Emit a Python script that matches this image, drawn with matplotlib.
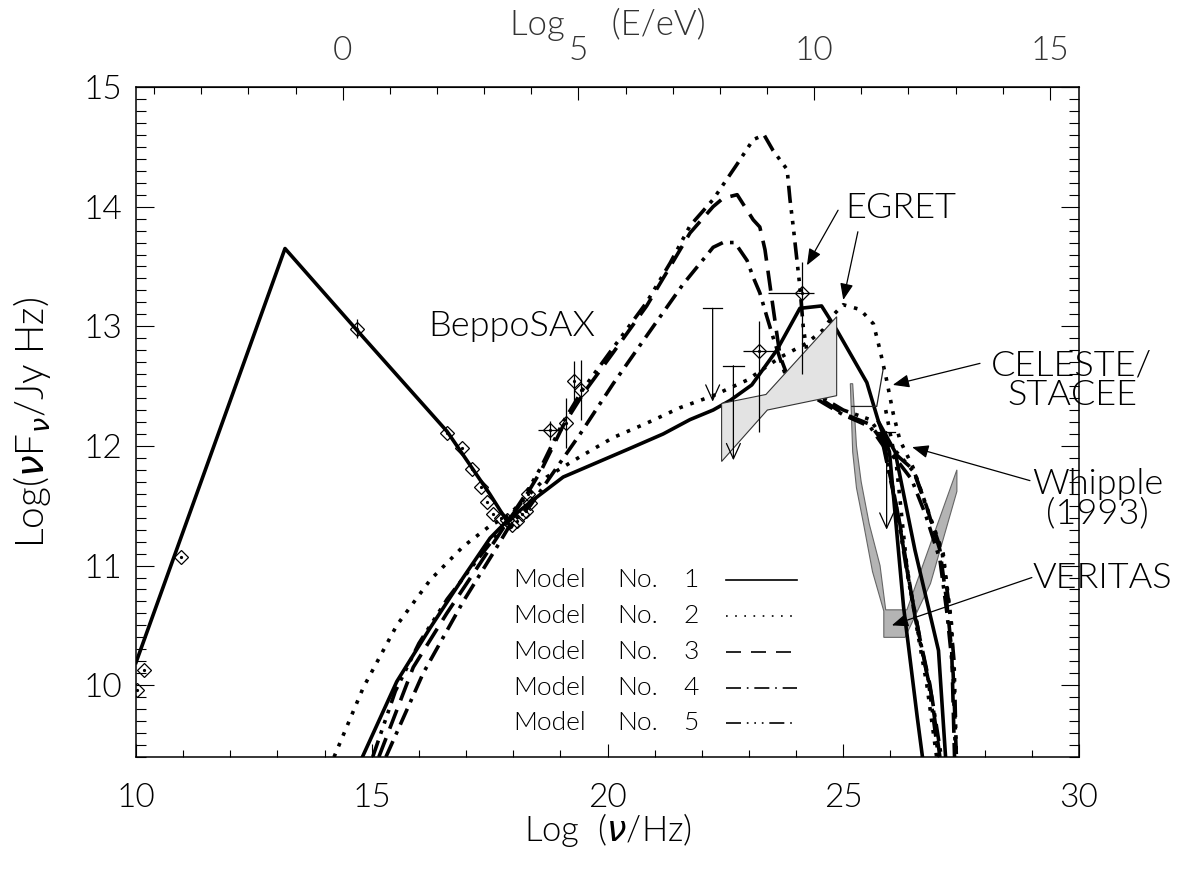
import matplotlib.pyplot as plt
from matplotlib.patches import Polygon
from matplotlib.ticker import MultipleLocator

plt.rcParams['font.family'] = ['Lato', 'DejaVu Sans']
plt.rcParams['font.weight'] = 300
plt.rcParams['axes.labelweight'] = 300
plt.rcParams['mathtext.fontset'] = 'dejavusans'

# ---- synchrotron part (model 1 only) ----
sync_x = [10.0, 13.16, 14.68, 16.6, 17.5, 17.95]
sync_y = [10.19, 13.65, 12.97, 12.12, 11.6, 11.32]

# ---- model curves (inverse Compton part) ----
m1_x = [14.79, 15.53, 16.24, 16.94, 17.51, 17.86, 18.36, 19.06, 19.77, 20.48, 21.18, 21.75,
        22.24, 22.6, 23.06, 23.59, 24.08, 24.54, 24.86, 25.5, 25.75, 25.98, 26.28, 26.36,
        26.57, 26.68]
m1_y = [9.39, 10.03, 10.48, 10.90, 11.23, 11.37, 11.53, 11.74, 11.86, 11.98, 12.10, 12.22,
        12.30, 12.38, 12.51, 12.80, 13.15, 13.17, 12.97, 12.53, 12.2, 11.95, 10.65, 10.40,
        9.73, 9.40]
m1b_x = [25.75, 26.1, 26.52, 27.02, 27.17]
m1b_y = [12.2, 11.95, 11.13, 10.29, 9.40]

m2_x = [14.2, 14.82, 15.53, 16.24, 16.94, 17.5, 17.9, 18.3, 18.71, 19.42, 20.12, 20.83,
        21.54, 22.24, 22.96, 23.66, 24.23, 24.57, 24.8, 25.0, 25.36, 25.64, 25.78, 25.92,
        26.06, 26.2, 26.48, 26.84, 27.12, 27.3, 27.38]
m2_y = [9.40, 9.98, 10.50, 10.88, 11.16, 11.33, 11.42, 11.58, 11.74, 11.91, 12.07, 12.19,
        12.32, 12.42, 12.55, 12.74, 12.86, 12.97, 13.10, 13.18, 13.14, 13.02, 12.80, 12.55,
        12.27, 12.05, 11.82, 11.41, 11.10, 10.50, 9.40]
m2b_x = [25.9, 26.13, 26.24, 26.35, 26.55, 26.77, 26.98]
m2b_y = [12.3, 11.83, 11.41, 10.99, 10.50, 10.01, 9.40]

m3_x = [15.15, 15.88, 16.59, 17.3, 17.9, 18.22, 18.6, 19.06, 19.49, 20.12, 20.83, 21.33,
        21.75, 22.24, 22.45, 22.75, 23.09, 23.23, 23.34, 23.45, 23.55, 23.66, 23.85, 24.2,
        24.57, 25.0, 25.57, 25.85, 26.2, 26.49, 26.77, 27.05, 27.19, 27.3, 27.36]
m3_y = [9.40, 10.15, 10.60, 11.02, 11.38, 11.55, 11.80, 12.17, 12.44, 12.78, 13.17, 13.50,
        13.78, 14.00, 14.07, 14.10, 13.89, 13.83, 13.64, 13.33, 13.05, 12.75, 12.55, 12.45,
        12.38, 12.27, 12.18, 12.03, 11.90, 11.80, 11.49, 11.13, 10.71, 10.29, 9.40]
m3b_x = [25.85, 26.15, 26.4, 26.62, 26.84, 27.05]
m3b_y = [12.03, 11.45, 10.85, 10.40, 10.00, 9.40]

m4_x = [15.3, 16.09, 16.94, 17.6, 17.95, 18.36, 19.42, 20.12, 20.83, 21.6, 22.24, 22.45,
        22.7, 22.96, 23.09, 23.23, 23.38, 23.51, 23.75, 24.2, 24.57, 25.0, 25.57, 25.85,
        26.2, 26.45, 26.75, 27.05, 27.2, 27.33, 27.4]
m4_y = [9.40, 10.10, 10.70, 11.12, 11.35, 11.50, 12.10, 12.52, 12.92, 13.35, 13.66, 13.70,
        13.70, 13.55, 13.41, 13.28, 13.08, 12.91, 12.62, 12.45, 12.36, 12.26, 12.16, 12.00,
        11.85, 11.72, 11.42, 11.05, 10.60, 10.10, 9.40]
m4b_x = [25.85, 26.2, 26.45, 26.67, 26.88, 27.08]
m4b_y = [12.00, 11.35, 10.75, 10.30, 9.90, 9.40]

m5_x = [15.02, 15.5, 16.0, 16.6, 17.3, 17.9, 18.22, 18.6, 19.06, 19.49, 20.12, 20.83,
        21.33, 21.75, 22.24, 22.74, 23.09, 23.32, 23.51, 23.81, 23.87, 23.94, 24.01, 24.08,
        24.15, 24.3, 24.57, 25.0, 25.57, 25.85, 26.2, 26.5, 26.8, 27.1, 27.25, 27.35, 27.4]
m5_y = [9.40, 9.95, 10.35, 10.72, 11.08, 11.38, 11.57, 11.83, 12.20, 12.48, 12.82, 13.20,
        13.53, 13.84, 14.06, 14.35, 14.56, 14.60, 14.47, 14.31, 14.06, 13.83, 13.58, 13.33,
        13.00, 12.60, 12.40, 12.30, 12.22, 12.06, 11.92, 11.78, 11.45, 11.10, 10.65, 10.20, 9.40]
m5b_x = [25.85, 26.1, 26.35, 26.58, 26.8, 27.02]
m5b_y = [12.06, 11.55, 10.95, 10.45, 10.05, 9.40]

# ---- observations ----
radio_x = [10.03, 10.17, 10.95]
radio_y = [9.96, 10.13, 11.07]
opt_x = [14.68]
opt_y = [12.98]
opt_yerr = [0.08]
xray_x = [16.59, 16.91, 17.12, 17.31, 17.44, 17.58, 17.75, 17.86, 17.97, 18.07, 18.18,
          18.28, 18.36, 18.32]
xray_y = [12.11, 11.98, 11.81, 11.66, 11.53, 11.43, 11.40, 11.38, 11.34, 11.37, 11.43,
          11.46, 11.52, 11.60]
sax_x = [18.78, 19.13, 19.29, 19.43]
sax_y = [12.13, 12.19, 12.54, 12.47]
sax_xerr = [0.26, 0.0, 0.0, 0.0]
sax_yerr = [0.08, 0.21, 0.17, 0.25]
egret_x = [23.21, 24.12]
egret_y = [12.79, 13.28]
egret_xlo = [0.33, 0.71]
egret_xhi = [0.34, 0.25]
egret_ylo = [0.67, 0.68]
egret_yhi = [0.25, 0.26]
ul_x = [22.23, 22.67, 25.92]
ul_top = [13.15, 12.67, 12.12]
ul_bot = [12.37, 11.88, 11.30]
ul_cap = [0.2, 0.23, 0.18]
celeste_x = [25.18, 25.71, 25.85]
celeste_y = [12.33, 12.33, 12.65]

# EGRET spectrum bowtie and VERITAS sensitivity
bowtie_x = [22.42, 23.36, 24.86, 24.86, 23.39, 22.42]
bowtie_y = [12.355, 12.43, 13.08, 12.42, 12.30, 11.87]
veritas_x = [25.15, 25.20, 25.28, 25.43, 25.62, 25.86, 25.86, 26.31, 26.85, 27.41, 27.41,
             26.35, 25.90, 25.78, 25.55, 25.38, 25.28, 25.20]
veritas_y = [12.52, 11.95, 11.65, 11.35, 10.95, 10.62, 10.40, 10.40, 10.85, 11.62, 11.80,
             10.63, 10.63, 11.00, 11.35, 11.70, 12.00, 12.52]

model_no = ['1', '2', '3', '4', '5']
dash_styles = ['-', (0, (1, 2.2)), (0, (5.6, 2.8)), (0, (4.8, 2, 1, 2)),
               (0, (4.8, 2, 1, 2, 1, 2, 1, 2))]
legend_styles = ['-', (0, (1, 4.5)), (0, (9, 6)), (0, (9, 3.5, 1, 3.5)),
                 (0, (9, 3.5, 1, 3.5, 1, 3.5, 1, 3.5))]

fig = plt.figure(figsize=(11.9, 8.75), dpi=100)
ax = fig.add_axes([0.11429, 0.13486, 0.79244, 0.76571])

lw = 2.6
ax.plot(sync_x, sync_y, color='black', lw=lw, zorder=2)
curves = [(m1_x, m1_y, m1b_x, m1b_y), (m2_x, m2_y, m2b_x, m2b_y), (m3_x, m3_y, m3b_x, m3b_y),
          (m4_x, m4_y, m4b_x, m4b_y), (m5_x, m5_y, m5b_x, m5b_y)]
for (cx, cy, bx, by), ls in zip(curves, dash_styles):
    ax.plot(cx, cy, color='black', lw=lw, linestyle=ls, dash_capstyle='butt', zorder=2)
    ax.plot(bx, by, color='black', lw=lw, linestyle=ls, dash_capstyle='butt', zorder=2)

# grey regions
ax.add_patch(Polygon(list(zip(veritas_x, veritas_y)), closed=True, facecolor='#b4b4b4',
                     edgecolor='#666666', lw=0.8, zorder=1.5))
ax.add_patch(Polygon(list(zip(bowtie_x, bowtie_y)), closed=True, facecolor='#e3e3e3',
                     edgecolor='#333333', lw=0.8, zorder=3))

# data points (open diamonds with a dot in the middle)
pt = dict(fmt='D', mfc='none', mec='black', ms=7, mew=0.9, ecolor='black',
          elinewidth=0.9, capsize=0, zorder=4)
ax.errorbar(radio_x, radio_y, **pt)
ax.errorbar(opt_x, opt_y, yerr=opt_yerr, **pt)
ax.errorbar(xray_x, xray_y, **pt)
ax.errorbar(sax_x, sax_y, xerr=sax_xerr, yerr=sax_yerr, **pt)
ax.errorbar(egret_x, egret_y, xerr=[egret_xlo, egret_xhi], yerr=[egret_ylo, egret_yhi], **pt)
for px, py in [(radio_x, radio_y), (opt_x, opt_y), (xray_x, xray_y), (sax_x, sax_y),
               (egret_x, egret_y)]:
    ax.plot(px, py, 'o', ms=1.3, color='black', zorder=4)
ax.plot(celeste_x, celeste_y, color='#222222', lw=0.9, zorder=4)

# upper limits
for x, t, b, c in zip(ul_x, ul_top, ul_bot, ul_cap):
    ax.plot([x - c, x + c], [t, t], color='black', lw=0.9, zorder=4)
    ax.annotate('', xy=(x, b), xytext=(x, t), zorder=4,
                arrowprops=dict(arrowstyle='->,head_length=0.55,head_width=0.25',
                                color='black', lw=0.9, mutation_scale=20,
                                shrinkA=0, shrinkB=0))

# labels with arrows
head = dict(arrowstyle='-|>,head_length=0.5,head_width=0.2', color='black', lw=0.9,
            mutation_scale=20, shrinkA=0, shrinkB=0)
arrows = [((24.23, 13.51), (24.89, 13.97)), ((25.0, 13.22), (25.31, 13.79)),
          ((26.05, 12.51), (27.9, 12.69)), ((26.46, 11.99), (28.96, 11.71)),
          ((26.03, 10.50), (29.0, 10.90))]
for tip, tail in arrows:
    ax.annotate('', xy=tip, xytext=tail, arrowprops=head, zorder=5, annotation_clip=False)

lab = dict(fontsize=26, ha='center', va='center', clip_on=False, zorder=6)
ax.text(17.97, 13.0, 'BeppoSAX', **lab)
ax.text(26.22, 13.99, 'EGRET', **lab)
ax.text(29.85, 12.55, 'CELESTE/\nSTACEE', linespacing=0.9, **lab)
ax.text(30.4, 11.56, 'Whipple\n(1993)', linespacing=0.9, **lab)
ax.text(30.5, 10.90, 'VERITAS', **lab)

# legend drawn by hand like the original
row_y = [0.2642, 0.2097, 0.1567, 0.1030, 0.0507]
for num, ls, ry in zip(model_no, legend_styles, row_y):
    ax.text(0.3998, ry, 'Model', transform=ax.transAxes, fontsize=19, ha='left', va='center')
    ax.text(0.5101, ry, 'No.', transform=ax.transAxes, fontsize=19, ha='left', va='center')
    ax.text(0.5801, ry, num, transform=ax.transAxes, fontsize=19, ha='left', va='center')
    ax.plot([0.6257, 0.701], [ry, ry], transform=ax.transAxes, color='black', lw=1.2,
            linestyle=ls, dash_capstyle='butt')

# axes
ax.set_xlim(10, 30)
ax.set_ylim(9.4, 15)
ax.set_xticks([10, 15, 20, 25, 30])
ax.set_yticks([10, 11, 12, 13, 14, 15])
ax.xaxis.set_minor_locator(MultipleLocator(1))
ax.yaxis.set_minor_locator(MultipleLocator(0.1))
ax.tick_params(axis='x', which='major', direction='in', length=9.5, width=0.8,
               labelsize=24, pad=19, top=False)
ax.tick_params(axis='x', which='minor', direction='in', length=5, width=0.8, top=False)
ax.tick_params(axis='y', which='major', direction='in', length=13, width=0.8,
               labelsize=24, pad=10, right=True)
ax.tick_params(axis='y', which='minor', direction='in', length=7, width=0.8, right=True)
for s in ax.spines.values():
    s.set_linewidth(1.1)

ax.set_xlabel(r'Log  ($\nu$/Hz)', fontsize=25, labelpad=-2)
ax.set_ylabel(r'Log($\nu$F$_\nu$/Jy Hz)', fontsize=28, labelpad=22)

top = ax.secondary_xaxis('top', functions=(lambda x: x - 14.383, lambda e: e + 14.383))
top.set_xticks([0, 5, 10, 15])
top.xaxis.set_minor_locator(MultipleLocator(1))
top.tick_params(which='major', direction='in', length=9.5, width=0.8, labelsize=24,
                pad=15, labelcolor='#333333')
top.tick_params(which='minor', direction='in', length=5, width=0.8)
top.set_xlabel('Log     (E/eV)', fontsize=25, color='#333333', labelpad=1)

fig.savefig('out.png', dpi=100)
